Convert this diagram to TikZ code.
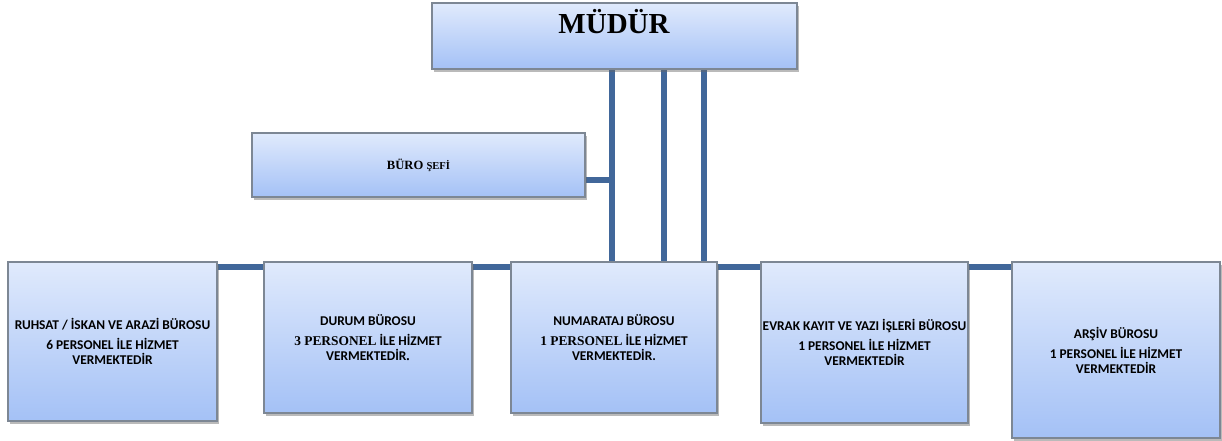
\documentclass[tikz,border=0pt]{standalone}
\usepackage{fontspec}
\setmainfont{Carlito}
\newfontfamily\tms{Liberation Serif}
\usetikzlibrary{shadows,backgrounds}
\definecolor{lnc}{HTML}{41679A}
\definecolor{bdc}{HTML}{7D8794}
\definecolor{topc}{HTML}{E0EAFC}
\definecolor{botc}{HTML}{A4C1F6}
\begin{document}
\begin{tikzpicture}[x=1pt,y=-1pt,
 box/.style={draw=bdc, line width=1.2pt, top color=topc, bottom color=botc,
   inner sep=0pt, outer sep=0pt,
   drop shadow={shadow xshift=1.5pt,shadow yshift=-3pt,opacity=0.45,fill=black!60},
   align=center, font=\bfseries\fontsize{13.4}{15}\selectfont},
 conn/.style={draw=lnc, line width=5.5pt},
 lbl/.style={inner sep=0pt, align=center}]
\useasboundingbox (0,0) rectangle (1222,441);
\node[box, minimum width=365pt, minimum height=66pt] (mudur) at (614.5,36) {};
\node[lbl, font=\tms\bfseries\fontsize{29}{32}\selectfont] (mudurtext) at (614,22) {MÜDÜR};
\node[box, minimum width=333pt, minimum height=64pt, font=\tms\bfseries\fontsize{12.6}{14}\selectfont] (sef) at (418.5,165) {BÜRO {\fontsize{10.6}{12}\selectfont ŞEFİ}};
\node[box, minimum width=209pt, minimum height=159pt] (b1) at (112.5,341.5)
  {RUHSAT / İSKAN VE ARAZİ BÜROSU\\[5pt]6 PERSONEL İLE HİZMET\\VERMEKTEDİR};
\node[box, minimum width=208pt, minimum height=151pt] (b2) at (368,337.5)
  {DURUM BÜROSU\\[5pt]{\tms\bfseries 3 PERSONEL} İLE HİZMET\\VERMEKTEDİR{\tms .}};
\node[box, minimum width=206pt, minimum height=151pt] (b3) at (614,337.5)
  {NUMARATAJ BÜROSU\\[5pt]{\tms\bfseries 1 PERSONEL} İLE HİZMET\\VERMEKTEDİR.};
\node[box, minimum width=207pt, minimum height=161pt] (b4) at (864.5,342.5)
  {EVRAK KAYIT VE YAZI İŞLERİ BÜROSU\\[5pt]1 PERSONEL İLE HİZMET\\VERMEKTEDİR};
\node[box, minimum width=208pt, minimum height=176pt] (b5) at (1116,350)
  {ARŞİV BÜROSU\\[5pt]1 PERSONEL İLE HİZMET\\VERMEKTEDİR};
\coordinate (v1) at (612,100);
\coordinate (v2) at (664,100);
\coordinate (v3) at (704,100);
\begin{pgfonlayer}{background}
\draw[conn] (mudur.south -| v1) -- (b3.north -| v1);
\draw[conn] (mudur.south -| v2) -- (b3.north -| v2);
\draw[conn] (mudur.south -| v3) -- (b3.north -| v3);
\draw[conn] ([yshift=-15pt]sef.east) -- ([yshift=-15pt]sef.east -| v1);
\draw[conn] ([yshift=-5pt]b1.north east) -- ([yshift=-5pt]b1.north east -| b2.west);
\draw[conn] ([yshift=-5pt]b2.north east) -- ([yshift=-5pt]b2.north east -| b3.west);
\draw[conn] ([yshift=-5pt]b3.north east) -- ([yshift=-5pt]b3.north east -| b4.west);
\draw[conn] ([yshift=-5pt]b4.north east) -- ([yshift=-5pt]b4.north east -| b5.west);
\end{pgfonlayer}
\end{tikzpicture}
\end{document}
